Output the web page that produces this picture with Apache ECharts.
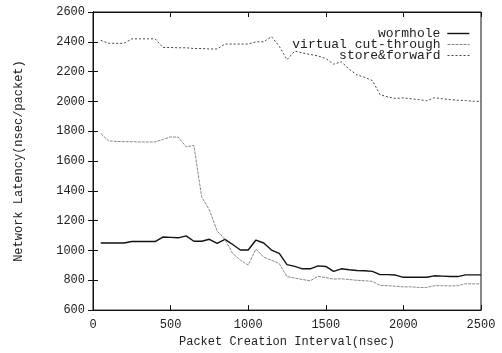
<!DOCTYPE html>
<html><head><meta charset="utf-8">
<script src="https://cdn.jsdelivr.net/npm/echarts@6/dist/echarts.min.js"></script>
<style>html,body{margin:0;padding:0;background:#fff}#c{width:502px;height:353px}</style>
</head><body><div id="c"></div>
<script>
const intervals = [50,100,150,200,250,300,350,400,450,500,550,600,650,700,750,800,850,900,950,1000,
  1050,1100,1150,1200,1250,1300,1350,1400,1450,1500,1550,1600,1650,1700,1750,1800,1850,1900,1950,2000,
  2050,2100,2150,2200,2250,2300,2350,2400,2450,2500];
const wormhole = [1050,1050,1050,1050,1060,1060,1060,1060,1090,1088,1085,1098,1062,1062,1075,1048,1075,1040,1003,1003,
  1070,1050,1003,980,905,893,877,877,897,893,860,877,871,866,864,860,838,838,835,820,
  820,820,820,830,828,825,825,836,836,836];
const virtualCutThrough = [1785,1735,1732,1730,1730,1728,1728,1728,1745,1762,1760,1695,1705,1360,1272,1130,1075,980,935,902,
  1010,955,935,912,825,815,805,797,826,818,808,810,805,800,797,793,766,764,760,756,
  756,752,752,764,764,762,764,777,776,776];
const storeForward = [2410,2390,2390,2390,2420,2420,2420,2420,2362,2362,2360,2360,2355,2355,2352,2352,2385,2385,2385,2385,
  2400,2400,2435,2370,2280,2338,2325,2315,2305,2288,2250,2266,2217,2178,2162,2140,2045,2030,2020,2024,
  2018,2012,2004,2025,2018,2012,2008,2006,2001,2000];
const seriesNames = ['wormhole','virtual cut-through','store&forward'];
const xTitle = 'Packet Creation Interval(nsec)';
const yTitle = 'Network Latency(nsec/packet)';

const FONT = 'Liberation Mono';
const TXT = '#222';
const pairs = arr => intervals.map((x,i)=>[x,arr[i]]);
const chart = echarts.init(document.getElementById('c'), null, {renderer:'canvas'});
const axisLineStyle = {show:true, lineStyle:{color:'#111', width:1}};
const plain = v => String(v);
const legendBase = (name, top, w) => ({
  data:[name], right:32, top:top, orient:'vertical', align:'right',
  itemWidth:22, itemHeight:10, padding:0, selectedMode:false,
  itemStyle:{opacity:0, borderWidth:0},
  lineStyle:{width:w},
  textStyle:{fontFamily:FONT, fontSize:13, color:TXT, padding:[0,2,0,0]}
});
chart.setOption({
  animation:false,
  backgroundColor:'#fff',
  grid:{left:93, right:21, top:12, bottom:38, show:true, borderColor:'#111', borderWidth:1},
  legend:[legendBase(seriesNames[0],27,1.4), legendBase(seriesNames[1],38,1), legendBase(seriesNames[2],49,1)],
  xAxis:[{
    type:'value', min:0, max:2500, interval:500, position:'bottom',
    name:xTitle, nameLocation:'middle', nameGap:22,
    nameTextStyle:{fontFamily:FONT, fontSize:12, color:TXT},
    axisLine:axisLineStyle, axisTick:{show:true, inside:true, length:5, lineStyle:{color:'#111'}},
    axisLabel:{fontFamily:FONT, fontSize:12, color:TXT, margin:9, formatter:plain},
    splitLine:{show:false}
  },{
    type:'value', min:0, max:2500, interval:500, position:'top',
    axisLine:axisLineStyle, axisTick:{show:true, inside:true, length:5, lineStyle:{color:'#111'}},
    axisLabel:{show:false}, splitLine:{show:false}
  }],
  yAxis:[{
    type:'value', min:600, max:2600, interval:200, position:'left',
    name:yTitle, nameLocation:'middle', nameGap:68,
    nameTextStyle:{fontFamily:FONT, fontSize:12, color:TXT},
    axisLine:axisLineStyle, axisTick:{show:true, inside:true, length:5, lineStyle:{color:'#111'}},
    axisLabel:{fontFamily:FONT, fontSize:12, color:TXT, margin:8, formatter:plain},
    splitLine:{show:false}
  },{
    type:'value', min:600, max:2600, interval:200, position:'right',
    axisLine:axisLineStyle, axisTick:{show:true, inside:true, length:5, lineStyle:{color:'#111'}},
    axisLabel:{show:false}, splitLine:{show:false}
  }],
  series:[
    {name:seriesNames[0], type:'line', data:pairs(wormhole), symbol:'none',
     lineStyle:{color:'#111', width:1.4, type:'solid'}, itemStyle:{color:'#111'}},
    {name:seriesNames[1], type:'line', data:pairs(virtualCutThrough), symbol:'none',
     lineStyle:{color:'#888', width:1, type:[3,1]}, itemStyle:{color:'#888'}},
    {name:seriesNames[2], type:'line', data:pairs(storeForward), symbol:'none',
     lineStyle:{color:'#444', width:1, type:[2,2]}, itemStyle:{color:'#444'}}
  ]
});
</script></body></html>
